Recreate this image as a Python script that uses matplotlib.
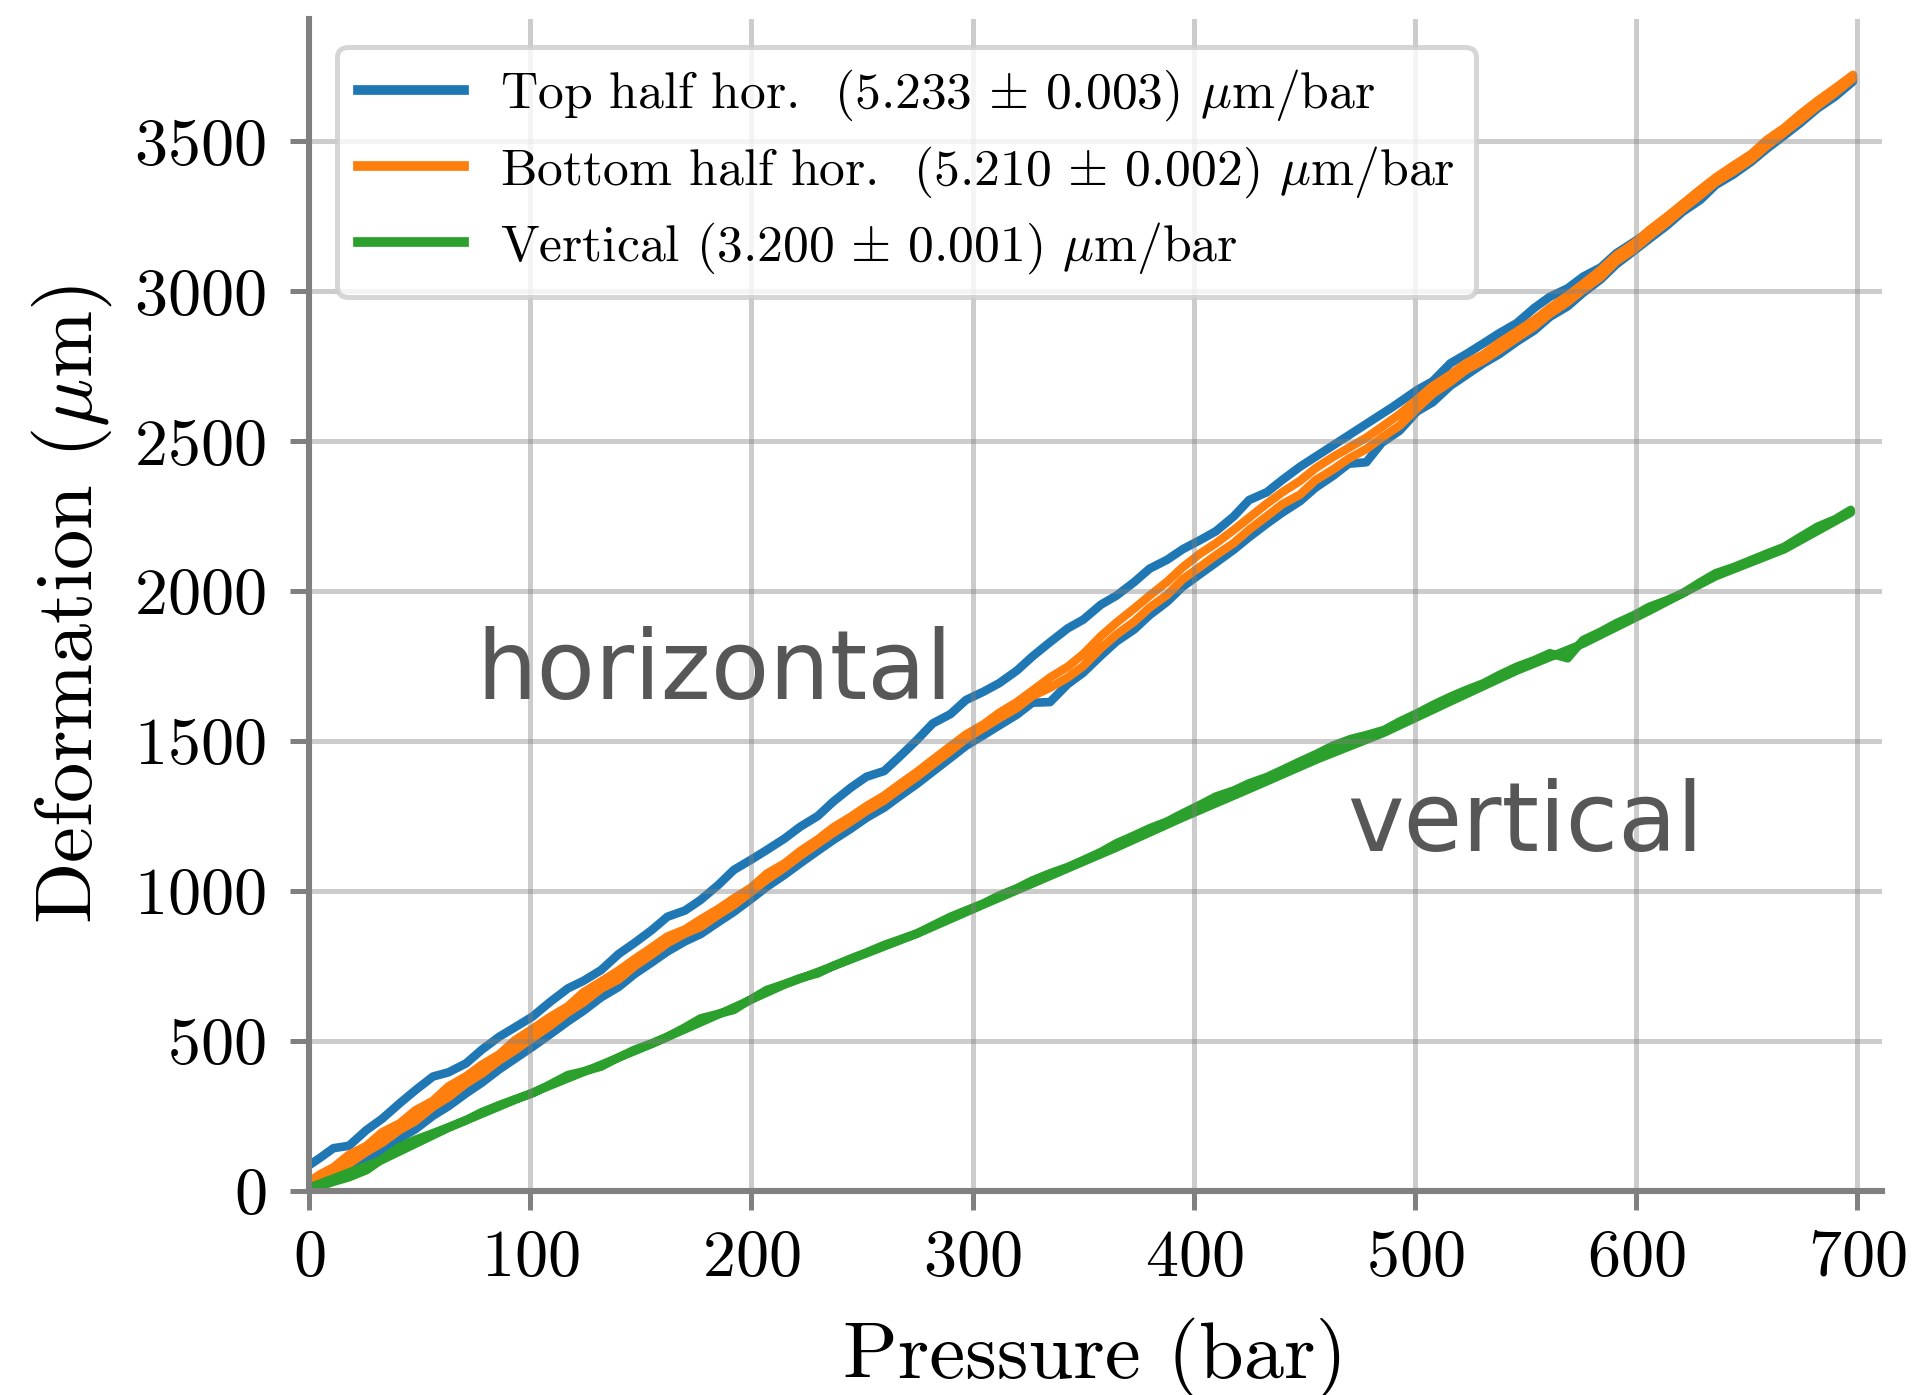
import matplotlib
matplotlib.use("Agg")
import matplotlib.pyplot as plt
from matplotlib.lines import Line2D

plt.rcParams['font.family'] = ['cmr10', 'DejaVu Serif']
plt.rcParams['mathtext.fontset'] = 'cm'
plt.rcParams['axes.formatter.use_mathtext'] = True
plt.rcParams['axes.unicode_minus'] = False

# ---------------- data ----------------
# Top half horizontal: loading branch (upper) then unloading branch (lower)
top_up_p = [0, 5, 11, 18, 26, 33, 41, 48, 56, 63, 71, 78, 86, 93, 101, 109, 117, 124, 132, 140,
            147, 155, 162, 170, 177, 185, 192, 200, 207, 215, 222, 230, 237, 245, 252, 260, 267,
            275, 282, 290, 297, 305, 312, 320, 327, 335, 343, 350, 358, 365, 373, 380, 388, 395,
            403, 410, 418, 425, 433, 440, 448, 490, 501, 508, 516, 523, 531, 538, 546, 554, 561,
            569, 576, 584, 591, 599, 606, 614, 621, 629, 636, 644, 652, 659, 667, 674, 682, 690, 698]
top_up_d = [85, 110, 142, 150, 203, 240, 292, 335, 381, 395, 425, 470, 514, 545, 581, 630, 675, 700,
            736, 790, 826, 870, 914, 935, 970, 1020, 1070, 1105, 1137, 1175, 1214, 1250, 1298, 1345,
            1381, 1400, 1448, 1505, 1559, 1590, 1637, 1665, 1693, 1735, 1782, 1830, 1876, 1905, 1955,
            1985, 2030, 2075, 2105, 2140, 2171, 2200, 2249, 2304, 2330, 2371, 2415, 2615, 2671, 2700,
            2760, 2790, 2827, 2860, 2894, 2945, 2982, 3010, 3049, 3080, 3127, 3165, 3200, 3240, 3290,
            3330, 3375, 3410, 3455, 3490, 3540, 3580, 3630, 3665, 3712]
top_down_p = [698, 690, 682, 674, 667, 659, 652, 644, 636, 629, 621, 614, 606, 599, 591, 584, 576,
              569, 561, 554, 546, 538, 531, 523, 516, 508, 501, 493, 485, 478, 470, 463, 455, 448,
              440, 433, 425, 418, 410, 403, 395, 388, 380, 373, 365, 358, 350, 343, 335, 327, 320,
              312, 305, 297, 290, 282, 275, 267, 260, 252, 245, 237, 230, 222, 215, 207, 200, 192,
              185, 177, 170, 162, 155, 147, 140, 132, 124, 117, 109, 101, 93, 86, 78, 71, 63, 56,
              48, 41, 33, 26, 18, 11, 5, 0]
top_down_d = [3700, 3650, 3610, 3560, 3520, 3475, 3432, 3390, 3355, 3305, 3265, 3220, 3175, 3135,
              3090, 3040, 2995, 2950, 2915, 2870, 2832, 2790, 2760, 2720, 2685, 2630, 2600, 2535,
              2495, 2430, 2425, 2385, 2345, 2300, 2262, 2225, 2180, 2138, 2095, 2058, 2015, 1965,
              1920, 1872, 1832, 1785, 1728, 1690, 1630, 1628, 1588, 1552, 1520, 1484, 1444, 1398,
              1358, 1316, 1278, 1244, 1208, 1170, 1134, 1092, 1054, 1014, 974, 930, 896, 856, 832,
              798, 762, 722, 680, 645, 600, 565, 522, 480, 440, 405, 360, 325, 282, 250, 205, 175,
              130, 100, 65, 40, 22, 15]

# Bottom half horizontal: up and down branches
bot_up_p = [0, 5, 11, 18, 26, 33, 41, 48, 56, 63, 71, 78, 86, 93, 101, 109, 117, 124, 132, 140,
            147, 155, 162, 170, 177, 185, 192, 200, 207, 215, 222, 230, 237, 245, 252, 260, 267,
            275, 282, 290, 297, 305, 312, 320, 327, 335, 343, 350, 358, 365, 373, 380, 388, 395,
            403, 410, 418, 425, 433, 440, 448, 455, 463, 470, 478, 485, 493, 501, 508, 516, 523,
            531, 538, 546, 554, 561, 569, 576, 584, 591, 599, 606, 614, 621, 629, 636, 644, 652,
            659, 667, 674, 682, 690, 698]
bot_up_d = [30, 55, 78, 120, 150, 195, 225, 268, 300, 348, 382, 420, 455, 502, 540, 580, 615, 662,
            698, 735, 772, 812, 848, 872, 905, 940, 975, 1012, 1058, 1092, 1133, 1172, 1212, 1248,
            1283, 1318, 1356, 1398, 1438, 1483, 1522, 1556, 1594, 1630, 1668, 1712, 1748, 1790,
            1850, 1895, 1942, 1985, 2032, 2080, 2126, 2160, 2204, 2245, 2292, 2330, 2368, 2410,
            2448, 2478, 2512, 2548, 2590, 2640, 2684, 2722, 2760, 2790, 2828, 2866, 2905, 2945,
            2986, 3025, 3072, 3120, 3160, 3205, 3250, 3292, 3340, 3380, 3420, 3458, 3505, 3546,
            3590, 3636, 3678, 3722]
bot_down_p = [698, 690, 682, 674, 667, 659, 652, 644, 636, 629, 621, 614, 606, 599, 591, 584, 576,
              569, 561, 554, 546, 538, 531, 523, 516, 508, 501, 493, 485, 478, 470, 463, 455, 448,
              440, 433, 425, 418, 410, 403, 395, 388, 380, 373, 365, 358, 350, 343, 335, 327, 320,
              312, 305, 297, 290, 282, 275, 267, 260, 252, 245, 237, 230, 222, 215, 207, 200, 192,
              185, 177, 170, 162, 155, 147, 140, 132, 124, 117, 109, 101, 93, 86, 78, 71, 63, 56,
              48, 41, 33, 26, 18, 11, 5, 0]
bot_down_d = [3710, 3662, 3618, 3570, 3530, 3485, 3440, 3400, 3364, 3320, 3274, 3230, 3184, 3140,
              3100, 3048, 3005, 2964, 2925, 2883, 2844, 2804, 2770, 2738, 2698, 2658, 2610, 2552,
              2512, 2474, 2442, 2406, 2370, 2322, 2290, 2250, 2205, 2160, 2120, 2082, 2040, 1988,
              1945, 1898, 1855, 1810, 1750, 1712, 1678, 1650, 1610, 1576, 1544, 1508, 1467, 1422,
              1382, 1340, 1302, 1267, 1232, 1194, 1158, 1117, 1078, 1038, 998, 953, 920, 880, 858,
              826, 788, 748, 705, 674, 628, 595, 550, 510, 468, 435, 390, 358, 312, 280, 232, 203,
              160, 130, 90, 60, 35, 20]

# Vertical
ver_up_p = [0, 5, 11, 18, 26, 33, 41, 48, 56, 63, 71, 78, 86, 93, 101, 109, 117, 124, 132, 140,
            147, 155, 162, 170, 177, 185, 192, 200, 207, 215, 222, 230, 237, 245, 252, 260, 267,
            275, 282, 290, 297, 305, 312, 320, 327, 335, 343, 350, 358, 365, 373, 380, 388, 395,
            403, 410, 418, 425, 433, 440, 448, 456, 463, 471, 478, 486, 493, 501, 508, 516, 523,
            531, 538, 546, 554, 561, 569, 576, 584, 591, 599, 606, 614, 621, 629, 636, 644, 652,
            659, 667, 674, 682, 690, 697]
ver_up_d = [10, 15, 30, 45, 69, 105, 147, 170, 192, 212, 236, 262, 286, 305, 325, 355, 386, 398,
            414, 445, 470, 492, 514, 545, 575, 590, 603, 640, 670, 690, 709, 725, 750, 775, 795,
            820, 838, 859, 885, 914, 935, 959, 985, 1009, 1035, 1059, 1080, 1103, 1130, 1159, 1185,
            1209, 1232, 1259, 1288, 1315, 1335, 1359, 1380, 1404, 1432, 1459, 1485, 1507, 1520,
            1537, 1565, 1593, 1620, 1648, 1670, 1693, 1720, 1748, 1770, 1793, 1776, 1837, 1865,
            1893, 1920, 1948, 1970, 1993, 2030, 2060, 2080, 2104, 2125, 2148, 2180, 2215, 2240, 2271]
ver_down_p = [697, 667, 636, 606, 576, 546, 516, 486, 456, 425, 395, 365, 335, 305, 275, 245, 215,
              185, 155, 124, 93, 63, 33, 0]
ver_down_d = [2262, 2140, 2050, 1935, 1825, 1735, 1632, 1528, 1440, 1340, 1245, 1145, 1050, 955,
              858, 772, 688, 588, 490, 396, 303, 210, 103, 10]

labels = [r'Top half hor.  $(5.233\,\pm\,0.003)$ $\mu$m/bar',
          r'Bottom half hor.  $(5.210\,\pm\,0.002)$ $\mu$m/bar',
          r'Vertical $(3.200\,\pm\,0.001)$ $\mu$m/bar']
colors = ['#1f77b4', '#ff7f0e', '#2ca02c']
xticks = [0, 100, 200, 300, 400, 500, 600, 700]
yticks = [0, 500, 1000, 1500, 2000, 2500, 3000, 3500]

# ---------------- figure ----------------
fig = plt.figure(figsize=(9.575, 6.975), dpi=200)
ax = fig.add_axes([0.1614, 0.1464, 0.8212, 0.8403])

lw = 3.1
ax.plot(top_up_p + top_down_p, top_up_d + top_down_d, color=colors[0], lw=lw, zorder=2)
ax.plot(bot_up_p + bot_down_p, bot_up_d + bot_down_d, color=colors[1], lw=lw, zorder=2)
ax.plot(ver_up_p + ver_down_p, ver_up_d + ver_down_d, color=colors[2], lw=lw, zorder=2)

ax.set_xlim(0, 711)
ax.set_ylim(0, 3910)
ax.set_xticks(xticks)
ax.set_yticks(yticks)

ax.set_axisbelow(False)
ax.grid(True, color='0.5', alpha=0.4, lw=1.8)

for s in ['top', 'right']:
    ax.spines[s].set_visible(False)
for s in ['left', 'bottom']:
    ax.spines[s].set_color('#808080')
    ax.spines[s].set_linewidth(2.2)

ax.tick_params(axis='both', direction='out', length=7, width=1.8, color='#808080',
               labelsize=23.8)
ax.tick_params(axis='y', pad=8.5)
ax.tick_params(axis='x', pad=7)

ax.set_xlabel('Pressure (bar)', fontsize=29, labelpad=10)
ax.set_ylabel(r'Deformation ($\mu$m)', fontsize=29, labelpad=7.4)

ax.text(75.5, 1642, 'horizontal', family='DejaVu Sans', fontsize=34.4, color='#575757',
        ha='left', va='baseline')
ax.text(469.5, 1133, 'vertical', family='DejaVu Sans', fontsize=34.4, color='#575757',
        ha='left', va='baseline')

handles = [Line2D([], [], color=c, lw=3.5) for c in colors]
leg = ax.legend(handles, labels, loc='upper left', fontsize=18.6, handlelength=2.05,
                handletextpad=0.7, labelspacing=0.4, framealpha=0.8, fancybox=True,
                borderaxespad=0.55)
leg.get_frame().set_edgecolor('0.8')
leg.get_frame().set_linewidth(1.8)

fig.savefig('out.png', dpi=200)
